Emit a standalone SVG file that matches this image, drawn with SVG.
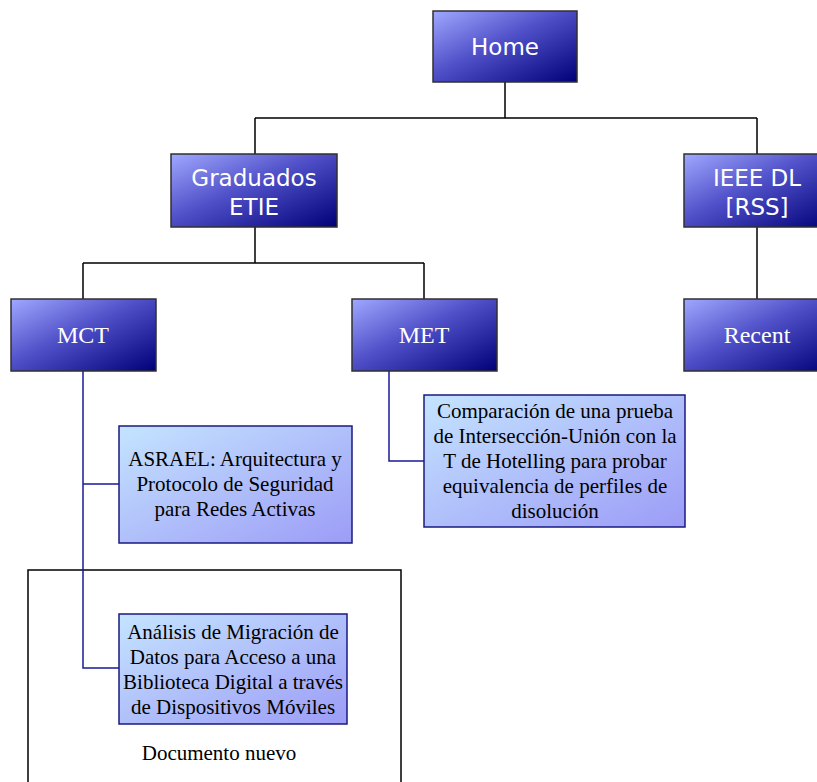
<svg xmlns="http://www.w3.org/2000/svg" width="817" height="782" viewBox="0 0 817 782">
  <defs>
    <linearGradient id="darkFill" x1="0" y1="0" x2="1" y2="1">
      <stop offset="0" stop-color="#a0a8ff"/>
      <stop offset="0.45" stop-color="#5050c8"/>
      <stop offset="1" stop-color="#000078"/>
    </linearGradient>
    <linearGradient id="lightFill" x1="0" y1="0" x2="1" y2="1">
      <stop offset="0" stop-color="#c4e4ff"/>
      <stop offset="1" stop-color="#9c9cf6"/>
    </linearGradient>
    <style>
      .dark { fill: url(#darkFill); stroke: #303030; stroke-width: 1.5; }
      .light { fill: url(#lightFill); stroke: #1a1a80; stroke-width: 1.5; }
      .sans { font-family: "DejaVu Sans", Verdana, sans-serif; font-size: 23px; fill: #ffffff; text-anchor: middle; }
      .serifW { font-family: "Liberation Serif", "Times New Roman", serif; font-size: 24px; fill: #ffffff; text-anchor: middle; }
      .serif { font-family: "Liberation Serif", "Times New Roman", serif; font-size: 21px; fill: #000000; text-anchor: middle; }
      .tree { fill: none; stroke: #000000; stroke-width: 1.5; }
      .sub { fill: none; stroke: #1a1a9a; stroke-width: 1.5; }
    </style>
  </defs>

  <!-- page frame -->
  <rect x="28" y="570" width="373" height="230" fill="#ffffff" stroke="#000000" stroke-width="1.5"/>

  <g id="connectors">
    <path class="tree" d="M505 82 V118 M255 118 H757 M255 118 V154 M757 118 V154"/>
    <path class="tree" d="M255 227 V263 M83 263 H424 M83 263 V299 M424 263 V299"/>
    <path class="tree" d="M757 227 V299"/>
    <path class="sub" d="M83 371 V668 H119 M83 484 H119"/>
    <path class="sub" d="M389 371 V461 H424"/>
  </g>

  <g id="home">
    <rect class="dark" x="433" y="11" width="144" height="71"/>
    <text class="sans" x="505" y="55">Home</text>
  </g>
  <g id="graduados">
    <rect class="dark" x="171" y="154" width="166" height="73"/>
    <text class="sans" x="254" y="186">Graduados</text>
    <text class="sans" x="254" y="215">ETIE</text>
  </g>
  <g id="ieee">
    <rect class="dark" x="684" y="154" width="148" height="73"/>
    <text class="sans" x="757" y="186">IEEE DL</text>
    <text class="sans" x="757" y="215">[RSS]</text>
  </g>
  <g id="mct">
    <rect class="dark" x="11" y="299" width="145" height="72"/>
    <text class="serifW" x="83" y="343">MCT</text>
  </g>
  <g id="met">
    <rect class="dark" x="352" y="299" width="145" height="72"/>
    <text class="serifW" x="424" y="343">MET</text>
  </g>
  <g id="recent">
    <rect class="dark" x="684" y="299" width="148" height="72"/>
    <text class="serifW" x="757" y="343">Recent</text>
  </g>
  <g id="asrael">
    <rect class="light" x="119" y="426" width="233" height="117"/>
    <text class="serif" x="235" y="466">ASRAEL: Arquitectura y</text>
    <text class="serif" x="235" y="491">Protocolo de Seguridad</text>
    <text class="serif" x="235" y="516">para Redes Activas</text>
  </g>
  <g id="comparacion">
    <rect class="light" x="424" y="395" width="261" height="132"/>
    <text class="serif" x="555" y="418">Comparación de una prueba</text>
    <text class="serif" x="555" y="443">de Intersección-Unión con la</text>
    <text class="serif" x="555" y="468">T de Hotelling para probar</text>
    <text class="serif" x="555" y="493">equivalencia de perfiles de</text>
    <text class="serif" x="555" y="518">disolución</text>
  </g>
  <g id="analisis">
    <rect class="light" x="119" y="614" width="228" height="110"/>
    <text class="serif" x="233" y="639">Análisis de Migración de</text>
    <text class="serif" x="233" y="664">Datos para Acceso a una</text>
    <text class="serif" x="233" y="689">Biblioteca Digital a través</text>
    <text class="serif" x="233" y="714">de Dispositivos Móviles</text>
  </g>
  <text class="serif" x="219" y="760">Documento nuevo</text>
</svg>
